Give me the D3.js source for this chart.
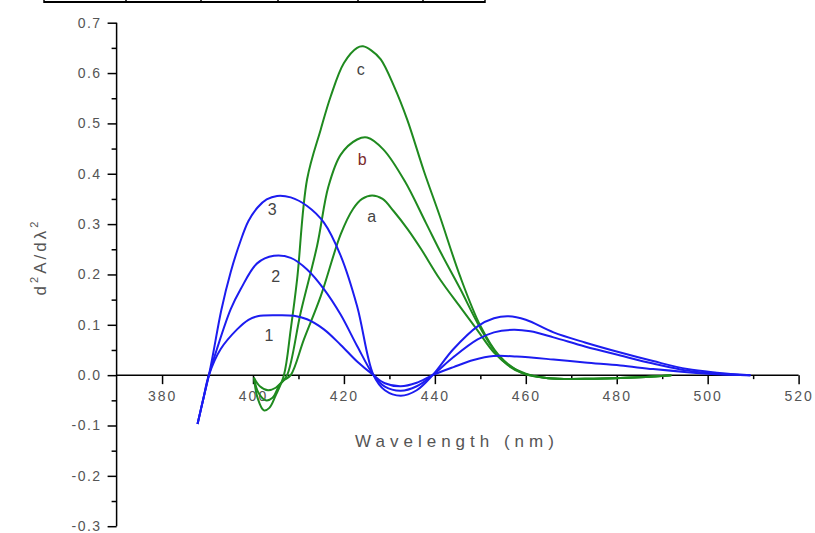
<!DOCTYPE html>
<html><head><meta charset="utf-8">
<script src="https://cdn.jsdelivr.net/npm/d3@7"></script>
<style>body{margin:0;background:#fff} svg{display:block}</style>
</head><body><svg id="c" width="815" height="533"></svg>
<script>
// ---- data ----
const xTicks = [380, 400, 420, 440, 460, 480, 500, 520];
const xMinor = [390, 410, 430, 450, 470, 490, 510];
const yTicks = [-0.3, -0.2, -0.1, 0.0, 0.1, 0.2, 0.3, 0.4, 0.5, 0.6, 0.7];
const yMinor = [-0.25, -0.15, -0.05, 0.05, 0.15, 0.25, 0.35, 0.45, 0.55, 0.65];

const blue1 = [[387.8,-0.097],[389,-0.05],[390.3,0.0],[392.9,0.052],[396.5,0.091],[399,0.11],[401,0.117],[405,0.119],[409,0.118],[411.9,0.111],[415.6,0.091],[419.3,0.06],[422.9,0.027],[426.5,0.0],[429,-0.016],[432.5,-0.022],[436,-0.015],[439.5,0.0],[444.1,0.016],[448.5,0.03],[452.9,0.038],[458,0.037],[466.1,0.031],[473,0.025],[480.8,0.019],[488,0.012],[495.5,0.006],[502,0.002],[509.4,0.0]];
const blue2 = [[387.8,-0.097],[389,-0.05],[390.3,0.0],[392,0.05],[395.1,0.131],[397.3,0.171],[400.9,0.222],[404.6,0.237],[408.3,0.233],[411.9,0.21],[415.6,0.171],[419.3,0.12],[422.9,0.058],[426.5,0.0],[429,-0.023],[432.5,-0.031],[436,-0.022],[439.5,0.0],[444.1,0.036],[449.4,0.071],[453,0.085],[457.3,0.09],[461,0.087],[466.1,0.075],[473,0.057],[480.8,0.039],[488,0.023],[495.5,0.009],[502,0.003],[509.4,0.0]];
const blue3 = [[387.8,-0.097],[389,-0.05],[390.3,0.0],[391.3,0.046],[393,0.128],[395.1,0.205],[397.2,0.265],[399,0.306],[401,0.333],[403,0.349],[405.3,0.356],[408.3,0.353],[411.9,0.336],[415.6,0.303],[419.3,0.237],[422.9,0.137],[426.5,0.0],[429,-0.03],[432.5,-0.041],[436,-0.03],[439.5,0.0],[444,0.051],[449.4,0.097],[453,0.113],[456.2,0.117],[460,0.11],[466.1,0.085],[473,0.065],[480.8,0.045],[488,0.028],[495.5,0.012],[502,0.005],[509.4,0.0]];

const greenA = [[400.2,-0.005],[401.5,-0.022],[403.3,-0.03],[405,-0.025],[406.8,-0.01],[408.3,0.0],[411.2,0.071],[414.9,0.157],[419.3,0.28],[422,0.33],[424,0.35],[426.2,0.357],[428.5,0.35],[431,0.325],[434,0.29],[437,0.25],[441,0.192],[445.6,0.135],[449.3,0.09],[453,0.045],[456.5,0.018],[460,0.003],[465,-0.006],[475,-0.007],[485,-0.004],[492,0.0]];
const greenB = [[400.2,-0.005],[401.2,-0.035],[402.8,-0.05],[404.3,-0.045],[405.8,-0.02],[407.5,0.0],[410.5,0.125],[414.1,0.257],[416.6,0.375],[419.3,0.438],[422.9,0.468],[425.1,0.472],[428.7,0.448],[433.4,0.385],[438,0.303],[441.5,0.24],[445.6,0.171],[449.3,0.105],[453,0.05],[456,0.02],[459.5,0.003],[465,-0.006],[475,-0.007],[485,-0.004],[492,0.0]];
const greenC = [[400.2,-0.005],[401,-0.045],[402.4,-0.07],[403.6,-0.065],[405,-0.04],[406.8,0.0],[408.3,0.091],[409.7,0.19],[411.9,0.389],[414.9,0.488],[417.1,0.554],[420,0.62],[422.9,0.65],[424.2,0.653],[426,0.645],[428.1,0.627],[431,0.574],[433.9,0.508],[437.6,0.405],[441,0.318],[445.6,0.195],[450,0.098],[454,0.04],[459,0.005],[465,-0.006],[475,-0.007],[485,-0.004],[492,0.0]];

const curveLabels = [
  {t:"3", x:404.2, y:0.329, c:"#444"},
  {t:"2", x:405.0, y:0.197, c:"#444"},
  {t:"1", x:403.5, y:0.078, c:"#444"},
  {t:"c", x:423.7, y:0.607, c:"#444"},
  {t:"b", x:424.0, y:0.429, c:"#7a2a2a"},
  {t:"a", x:426.1, y:0.315, c:"#444"}
];

// ---- drawing ----
const svg = d3.select("#c");
const x = d3.scaleLinear().domain([370, 520]).range([116.6, 798.6]);
const y = d3.scaleLinear().domain([-0.3, 0.7]).range([526.2, 22.7]);

// top table edge
const cols = [44, 126, 201, 278, 358, 423, 485];
svg.append("line").attr("x1",44).attr("x2",485).attr("y1",2).attr("y2",2).attr("stroke","#000").attr("stroke-width",2);
svg.selectAll(".cd").data(cols).enter().append("line").attr("x1",d=>d).attr("x2",d=>d).attr("y1",0).attr("y2",3).attr("stroke","#000").attr("stroke-width",1.5);

const font = "'Liberation Sans', Arial, sans-serif";
const fmtY = d => d.toFixed(1).replace("\u2212","-");

// x axis
const gx = svg.append("g").attr("transform",`translate(0,${y(0)})`);
gx.append("line").attr("x1",x(370)).attr("x2",x(520)).attr("stroke","#000").attr("stroke-width",1.5);
gx.call(d3.axisBottom(x).tickValues(xTicks).tickSize(9).tickFormat(d3.format("d")))
  .call(g=>g.select(".domain").remove());
gx.selectAll(".tick line").attr("stroke","#000").attr("stroke-width",1.5);
gx.selectAll(".tick text").attr("fill","#555").attr("font-family",font).attr("font-size",14).attr("letter-spacing",2).attr("dy","1.0em");
gx.append("g").call(d3.axisBottom(x).tickValues(xMinor).tickSize(4).tickFormat(""))
  .call(g=>g.select(".domain").remove())
  .selectAll(".tick line").attr("stroke","#000").attr("stroke-width",1.5);

// y axis
const gy = svg.append("g").attr("transform",`translate(${x(370)},0)`);
gy.append("line").attr("y1",y(0.7)).attr("y2",y(-0.3)).attr("stroke","#000").attr("stroke-width",1.5);
gy.call(d3.axisLeft(y).tickValues(yTicks).tickSize(9).tickPadding(6).tickFormat(fmtY))
  .call(g=>g.select(".domain").remove());
gy.selectAll(".tick line").attr("stroke","#000").attr("stroke-width",1.5);
gy.selectAll(".tick text").attr("fill","#555").attr("font-family",font).attr("font-size",14).attr("letter-spacing",1.5);
gy.append("g").call(d3.axisLeft(y).tickValues(yMinor).tickSize(5).tickFormat(""))
  .call(g=>g.select(".domain").remove())
  .selectAll(".tick line").attr("stroke","#000").attr("stroke-width",1.5);

// axis titles
svg.append("text").attr("x",457).attr("y",447).attr("text-anchor","middle")
  .attr("font-family",font).attr("font-size",17).attr("letter-spacing",5).attr("fill","#555")
  .text("Wavelength (nm)");
const yt = svg.append("text").attr("transform","translate(46,257) rotate(-90)").attr("text-anchor","middle")
  .attr("font-family",font).attr("font-size",17).attr("letter-spacing",3).attr("fill","#555");
yt.append("tspan").text("d");
yt.append("tspan").attr("font-size",11).attr("dy",-8).text("2");
yt.append("tspan").attr("dy",8).text("A/d\u03BB");
yt.append("tspan").attr("font-size",11).attr("dy",-8).text("2");

// curves
const line = d3.line().x(d=>x(d[0])).y(d=>y(d[1])).curve(d3.curveCatmullRom.alpha(0.5));
const series = [
  {d:greenA, c:"#1f8a1f"},{d:greenB, c:"#1f8a1f"},{d:greenC, c:"#1f8a1f"},
  {d:blue1, c:"#1c1cf0"},{d:blue2, c:"#1c1cf0"},{d:blue3, c:"#1c1cf0"}
];
svg.selectAll(".s").data(series).enter().append("path")
  .attr("d",s=>line(s.d)).attr("fill","none").attr("stroke",s=>s.c).attr("stroke-width",2)
  .attr("stroke-linejoin","round");

// curve labels
svg.selectAll(".lb").data(curveLabels).enter().append("text")
  .attr("x",d=>x(d.x)).attr("y",d=>y(d.y)).attr("dy","0.35em").attr("text-anchor","middle")
  .attr("font-family",font).attr("font-size",16).attr("fill",d=>d.c).text(d=>d.t);
</script></body></html>
